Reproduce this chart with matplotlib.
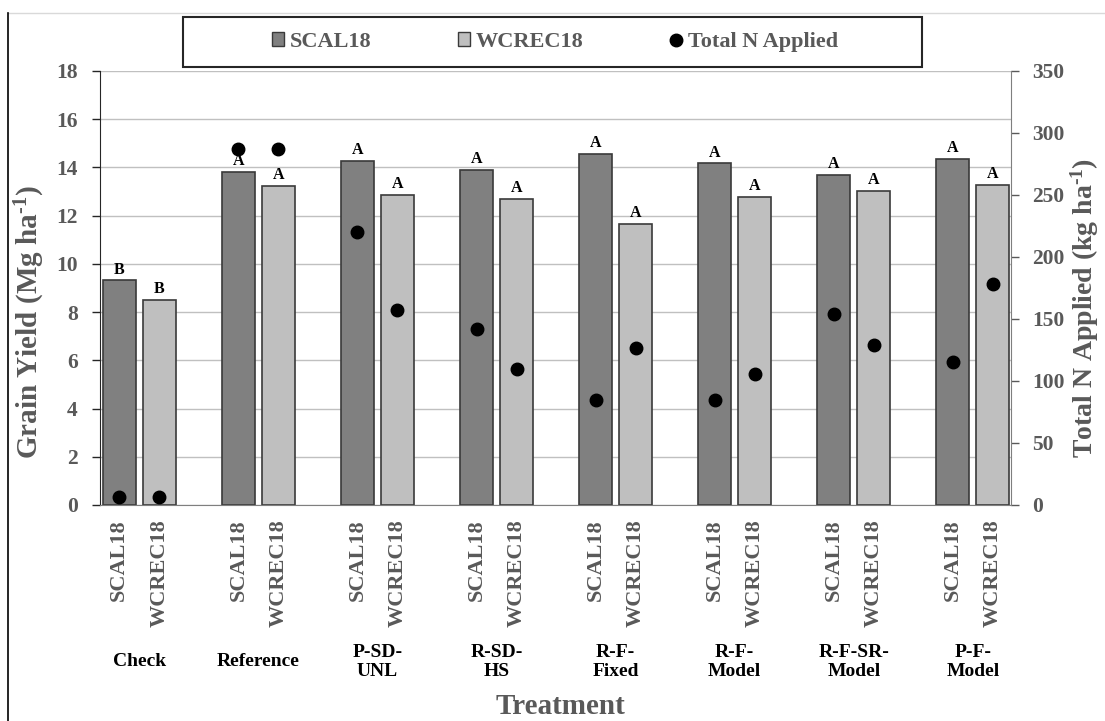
import matplotlib
matplotlib.use('Agg')
import matplotlib.pyplot as plt
from matplotlib.lines import Line2D
from matplotlib.patches import Rectangle, Patch
from matplotlib.transforms import blended_transform_factory
import numpy as np

plt.rcParams['font.family'] = 'Liberation Serif'
plt.rcParams['font.weight'] = 'bold'
plt.rcParams['mathtext.fontset'] = 'custom'
plt.rcParams['mathtext.rm'] = 'Liberation Serif:bold'
plt.rcParams['mathtext.default'] = 'rm'

# grain yield (Mg/ha) and total N applied (kg/ha) per treatment and site
treatments = ['Check', 'Reference', 'P-SD-\nUNL', 'R-SD-\nHS', 'R-F-\nFixed',
              'R-F-\nModel', 'R-F-SR-\nModel', 'P-F-\nModel']
sites = ['SCAL18', 'WCREC18']
scal_yield = [9.32, 13.80, 14.28, 13.89, 14.56, 14.17, 13.70, 14.34]
wcrec_yield = [8.50, 13.23, 12.87, 12.70, 11.66, 12.77, 13.03, 13.27]
scal_n = [6.5, 287, 220, 142, 85, 85, 154, 115]
wcrec_n = [6.5, 287, 157, 110, 127, 106, 129, 178]
scal_letters = ['B', 'A', 'A', 'A', 'A', 'A', 'A', 'A']
wcrec_letters = ['B', 'A', 'A', 'A', 'A', 'A', 'A', 'A']

GRAY_TXT = '#595959'
W, H = 1105, 721


def fx(px):
    return px / W


def fy(py):
    return 1 - py / H


fig = plt.figure(figsize=(W / 100, H / 100), dpi=100)
ax = fig.add_axes([fx(100), fy(505), fx(1011) - fx(100), fy(71) - fy(505)])

x = np.arange(len(treatments))
off = 0.168
bw = 0.277
xs = x - off
xw = x + off

ax.bar(xs, scal_yield, bw, color='#808080', edgecolor='#3a3a3a', lw=1.2, zorder=2)
ax.bar(xw, wcrec_yield, bw, color='#bfbfbf', edgecolor='#3a3a3a', lw=1.2, zorder=2)

for xi, v, l in zip(xs, scal_yield, scal_letters):
    ax.annotate(l, (xi, v), xytext=(0, 2), textcoords='offset points',
                ha='center', va='bottom', fontsize=11.5, fontweight='bold')
for xi, v, l in zip(xw, wcrec_yield, wcrec_letters):
    ax.annotate(l, (xi, v), xytext=(0, 2), textcoords='offset points',
                ha='center', va='bottom', fontsize=11.5, fontweight='bold')

ax.set_xlim(-0.33, 7.32)
ax.set_ylim(0, 18)
ax.set_yticks(np.arange(0, 19, 2))
ax.yaxis.grid(True, color='#c0c0c0', lw=1)
ax.set_axisbelow(True)
ax.tick_params(axis='y', length=6, width=1, color='#262626', pad=10,
               labelsize=15.5, labelcolor=GRAY_TXT)

ticks = np.concatenate([xs, xw])
labels = [sites[0]] * len(xs) + [sites[1]] * len(xw)
ax.set_xticks(ticks)
ax.set_xticklabels(labels, rotation=90, fontsize=16, color=GRAY_TXT,
                   fontweight='bold')
ax.tick_params(axis='x', length=0, pad=10)

ax.spines['top'].set_visible(False)
ax.spines['right'].set_visible(False)
ax.spines['left'].set_color('#262626')
ax.spines['bottom'].set_color('#7f7f7f')

ax2 = ax.twinx()
ax2.plot(xs, scal_n, 'o', color='black', ms=9, zorder=5)
ax2.plot(xw, wcrec_n, 'o', color='black', ms=9, zorder=5)
ax2.set_ylim(0, 350)
ax2.set_yticks(np.arange(0, 351, 50))
ax2.tick_params(axis='y', length=6, width=1, color='#595959', pad=9,
                labelsize=15.5, labelcolor=GRAY_TXT)
for s in ['top', 'left', 'bottom']:
    ax2.spines[s].set_visible(False)
ax2.spines['right'].set_color('#7f7f7f')

# treatment names under each pair of bars
trans = blended_transform_factory(ax.transData, fig.transFigure)
for xi, t in zip(x, treatments):
    ax.text(xi, fy(662), t, transform=trans, ha='center', va='center',
            fontsize=14, fontweight='bold', color='black', linespacing=1.1)

fig.text(fx(560), fy(706), 'Treatment', ha='center', va='center',
         fontsize=21, fontweight='bold', color=GRAY_TXT)
fig.text(fx(30), fy(322), r'Grain Yield (Mg ha$^{\text{-1}}$)', rotation=90,
         ha='center', va='center', fontsize=21, fontweight='bold', color=GRAY_TXT)
fig.text(fx(1085), fy(308), r'Total N Applied (kg ha$^{\text{-1}}$)', rotation=90,
         ha='center', va='center', fontsize=20, fontweight='bold', color=GRAY_TXT)

# legend box above the plot
fig.add_artist(Rectangle((fx(183), fy(67)), fx(922) - fx(183), fy(17) - fy(67),
                         transform=fig.transFigure, fill=False,
                         edgecolor='#262626', lw=1.5))
handles = [Patch(facecolor='#808080', edgecolor='#3a3a3a', label=sites[0]),
           Patch(facecolor='#bfbfbf', edgecolor='#3a3a3a', label=sites[1]),
           Line2D([], [], marker='o', ls='none', color='black', ms=9,
                  label='Total N Applied')]
fig.legend(handles=handles, loc='center', bbox_to_anchor=(fx(555), fy(42)),
           ncol=3, frameon=False, handlelength=0.55,
           handleheight=0.55, handletextpad=0.25, columnspacing=3.9,
           labelcolor=GRAY_TXT, prop={'weight': 'bold', 'size': 16})

# outer frame edges
fig.add_artist(Line2D([fx(8), 1], [fy(12.5), fy(12.5)], color='#d9d9d9', lw=1))
fig.add_artist(Line2D([fx(8), fx(8)], [fy(12.5), 0], color='black', lw=1.2))

fig.savefig('out.png', dpi=100)
